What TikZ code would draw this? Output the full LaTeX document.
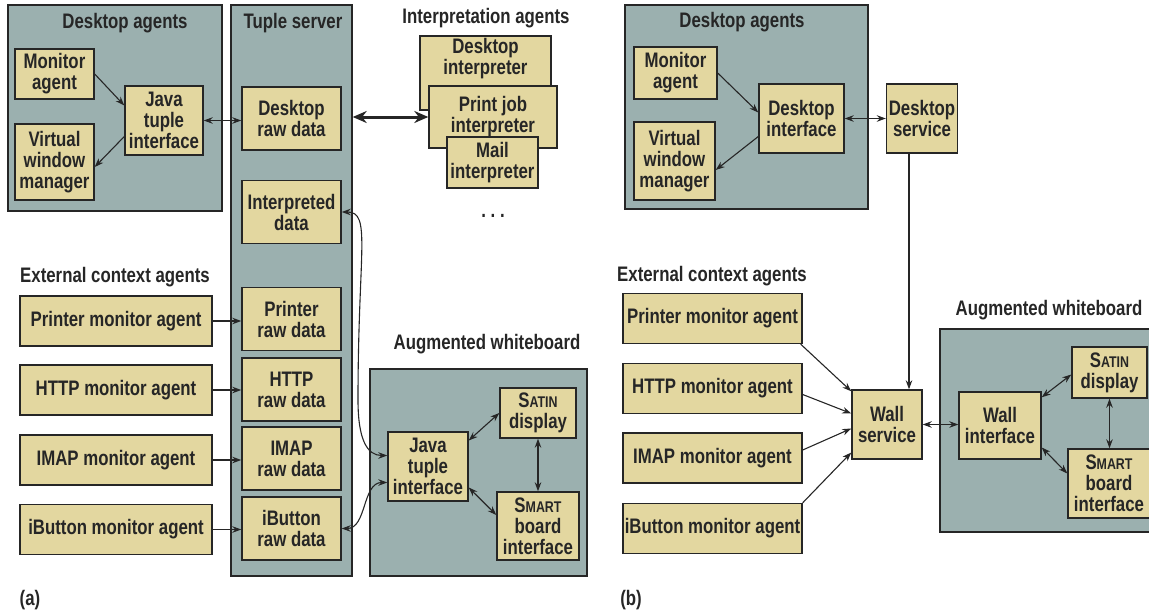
\documentclass[tikz,border=0pt]{standalone}
\usepackage{fontspec}
\setmainfont{Liberation Sans}[FakeStretch=0.8]
\usepackage{tikz}
\usetikzlibrary{arrows.meta}
\definecolor{panelc}{RGB}{155,176,175}
\definecolor{boxc}{RGB}{227,215,160}
\definecolor{linec}{RGB}{38,38,38}
\newcommand{\fsc}[2]{#1{\fontsize{15.5}{21}\selectfont #2}}

\begin{document}
\begin{tikzpicture}[x=1pt, y=-1pt,
  every node/.style={font=\bfseries\fontsize{21}{21}\selectfont, text=linec},
  panel/.style={draw=linec, fill=panelc, line width=1.4pt, inner sep=0pt},
  agent/.style={draw=linec, fill=boxc, line width=1.4pt, align=center, inner sep=1pt},
  arr/.style={line width=1.1pt, draw=linec, -{Stealth[length=9pt,width=6.5pt]}},
  darr/.style={line width=1.1pt, draw=linec, {Stealth[length=9pt,width=6.5pt]}-{Stealth[length=9pt,width=6.5pt]}},
  bigarr/.style={line width=3pt, draw=linec, {Stealth[length=14pt,width=12pt]}-{Stealth[length=14pt,width=12pt]}}]
\useasboundingbox (0,0) rectangle (1149,613);
\clip (0,0) rectangle (1149,613);

\node[panel, minimum width=214, minimum height=206] (dska) at (115,108) {};
\node[panel, minimum width=121, minimum height=571] (tsrv) at (291.5,290.5) {};
\node[panel, minimum width=217, minimum height=207] (wbda) at (478.5,472.5) {};
\node (dskatitle) at (125,23) {Desktop agents};
\node (tsrvtitle) at (293,23) {Tuple server};
\node (intatitle) at (486,18) {Interpretation agents};
\node (extatitle) at (115,277) {External context agents};
\node (wbdatitle) at (487,344) {Augmented whiteboard};
\node (laba) at (30,600) {(a)};

\node[agent, minimum width=79, minimum height=50] (mona) at (54.5,74) {Monitor\\agent};
\node[agent, minimum width=79, minimum height=76] (vwma) at (54.5,162) {Virtual\\window\\manager};
\node[agent, minimum width=78, minimum height=69] (jtia) at (164,120.5) {Java\\tuple\\interface};
\node[agent, minimum width=99, minimum height=63] (dsraw) at (291.5,118.5) {Desktop\\raw data};
\node[agent, minimum width=99, minimum height=63] (intd) at (291.5,212) {Interpreted\\data};
\node[agent, minimum width=99, minimum height=63] (prraw) at (291.5,319) {Printer\\raw data};
\node[agent, minimum width=99, minimum height=63] (htraw) at (291.5,389.5) {HTTP\\raw data};
\node[agent, minimum width=99, minimum height=63] (imraw) at (291.5,458.5) {IMAP\\raw data};
\node[agent, minimum width=99, minimum height=63] (ibraw) at (291.5,528.5) {iButton\\raw data};
\node[agent, minimum width=192, minimum height=50] (prmona) at (116,321) {Printer monitor agent};
\node[agent, minimum width=192, minimum height=50] (htmona) at (116,390) {HTTP monitor agent};
\node[agent, minimum width=192, minimum height=50] (immona) at (116,460) {IMAP monitor agent};
\node[agent, minimum width=192, minimum height=50] (ibmona) at (116,529.5) {iButton monitor agent};
\node[agent, minimum width=131, minimum height=74] (dinta) at (485.5,73) {};
\node[align=center] (dintatxt) at (485.5,59) {Desktop\\interpreter};
\node[agent, minimum width=128, minimum height=62] (pjinta) at (493,117) {Print job\\interpreter};
\node[agent, minimum width=91, minimum height=51] (minta) at (492.5,162.5) {Mail\\interpreter};
\node (dotsa) at (493,216) {.~.~.};
\node[agent, minimum width=80, minimum height=69] (jtwa) at (428,466.5) {Java\\tuple\\interface};
\node[agent, minimum width=76, minimum height=50] (sata) at (538,413) {\fsc{S}{ATIN}\\display};
\node[agent, minimum width=82, minimum height=68] (smaa) at (538,526) {\fsc{S}{MART}\\board\\interface};
\coordinate (benda) at (358,400);

\draw[arr] (mona.east) -- ([yshift=15pt]jtia.west);
\draw[arr] ([yshift=-16pt]jtia.west) -- ([yshift=-5pt]vwma.east);
\draw[darr] (jtia.east) -- (jtia.east -| dsraw.west);
\draw[bigarr] (tsrv.east |- pjinta.west) -- (pjinta.west);
\foreach \m/\r in {prmona/prraw, htmona/htraw, immona/imraw, ibmona/ibraw}
  \draw[arr] (\m.east) -- (\m.east -| \r.west);
\draw[darr] (intd.east) .. controls +(30,0) and +(0,-150) .. (benda) .. controls +(0,40) and +(-20,0) .. ([yshift=11pt]jtwa.west);
\draw[darr] (ibraw.east) .. controls +(25,0) and +(-25,0) .. ([yshift=-16pt]jtwa.west);
\draw[darr] ([yshift=26pt]jtwa.east) -- (sata.west);
\draw[darr] ([yshift=-21pt]jtwa.east) -- ([yshift=11pt]smaa.west);
\draw[darr] (sata.south) -- (smaa.north);

\node[panel, minimum width=243, minimum height=204] (dskb) at (746.5,107) {};
\node[panel, minimum width=220, minimum height=203] (wbdb) at (1050,430.5) {};
\node (dskbtitle) at (742,22) {Desktop agents};
\node (extbtitle) at (712,276) {External context agents};
\node (wbdbtitle) at (1049,310) {Augmented whiteboard};
\node (labb) at (631,600) {(b)};

\node[agent, minimum width=83, minimum height=52] (monb) at (675.5,73) {Monitor\\agent};
\node[agent, minimum width=81, minimum height=78] (vwmb) at (674.5,161) {Virtual\\window\\manager};
\node[agent, minimum width=85, minimum height=69] (difb) at (801.5,118.5) {Desktop\\interface};
\node[agent, minimum width=71, minimum height=69] (dsvb) at (922,118.5) {Desktop\\service};
\node[agent, minimum width=179, minimum height=50] (prmonb) at (712.5,318.5) {Printer monitor agent};
\node[agent, minimum width=179, minimum height=50] (htmonb) at (712.5,388.5) {HTTP monitor agent};
\node[agent, minimum width=179, minimum height=50] (immonb) at (712.5,458) {IMAP monitor agent};
\node[agent, minimum width=179, minimum height=50] (ibmonb) at (712.5,528.5) {iButton monitor agent};
\node[agent, minimum width=70, minimum height=69] (wsvb) at (887,424.5) {Wall\\service};
\node[agent, minimum width=82, minimum height=67] (wifb) at (1000,425.5) {Wall\\interface};
\node[agent, minimum width=75, minimum height=51] (satb) at (1109.5,372.5) {\fsc{S}{ATIN}\\display};
\node[agent, minimum width=82, minimum height=69] (smab) at (1109,483.5) {\fsc{S}{MART}\\board\\interface};

\draw[arr] (monb.east) -- ([yshift=6pt]difb.west);
\draw[arr] ([yshift=-18pt]difb.west) -- ([yshift=-9pt]vwmb.east);
\draw[darr] (difb.east) -- (difb.east -| dsvb.west);
\draw[arr] ([xshift=-13pt]dsvb.south) -- ([xshift=-13pt]dsvb.south |- wsvb.north);
\draw[arr] ([xshift=-2pt]prmonb.south east) -- ([yshift=-2pt]wsvb.north west);
\draw[arr] ([yshift=-6pt]htmonb.east) -- ([yshift=11pt]wsvb.west);
\draw[arr] ([yshift=8pt]immonb.east) -- ([yshift=-4pt]wsvb.west);
\draw[arr] (ibmonb.north east) -- ([yshift=-28pt]wsvb.west);
\draw[darr] (wsvb.east) -- (wsvb.east -| wifb.west);
\draw[darr] ([yshift=-6pt]wifb.north east) -- ([yshift=-2pt]satb.west);
\draw[darr] ([yshift=-22pt]wifb.east) -- ([yshift=10pt]smab.west);
\draw[darr] (satb.south) -- (satb.south |- smab.north);
\end{tikzpicture}
\end{document}
